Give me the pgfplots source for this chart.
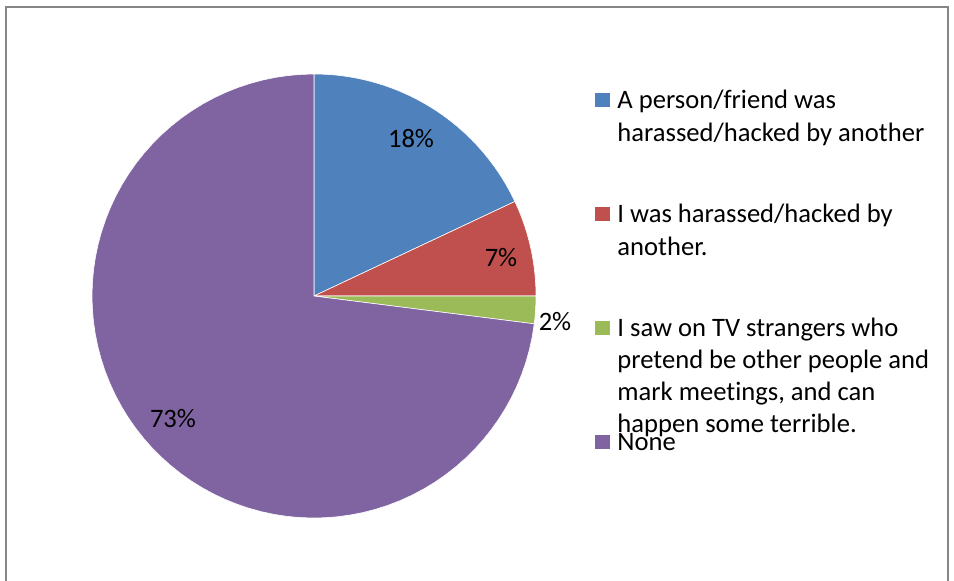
\documentclass[border=0pt]{standalone}
\usepackage{pgfplots}
\pgfplotsset{compat=1.18}
\usepackage{fontspec}
\setmainfont{Carlito}[Ligatures={NoCommon}]

\definecolor{sBlue}{RGB}{79,129,189}
\definecolor{sRed}{RGB}{192,80,77}
\definecolor{sGreen}{RGB}{155,187,89}
\definecolor{sPurple}{RGB}{128,100,162}
\definecolor{frame}{RGB}{134,134,134}

% shares in percent, clockwise from 12 o'clock
\def\pA{18}
\def\pB{7}
\def\pC{2}
\def\pD{73}

\begin{document}
\begin{tikzpicture}
\begin{axis}[
    width=477pt, height=290pt, scale only axis,
    xmin=0, xmax=954, ymin=0, ymax=580,
    y dir=reverse,
    hide axis, clip=false,
]
\pgfplotsset{pie/.style={draw=white, line width=0.3pt, samples=80, variable=\t}}
% slices: centre (314,296), radius 222
\addplot[pie, fill=sBlue, domain={90-3.6*\pA}:90]
    ({314+222*cos(\t)},{296-222*sin(\t)}) -- (axis cs:314,296) -- cycle;
\addplot[pie, fill=sRed, domain={90-3.6*(\pA+\pB)}:{90-3.6*\pA}]
    ({314+222*cos(\t)},{296-222*sin(\t)}) -- (axis cs:314,296) -- cycle;
\addplot[pie, fill=sGreen, domain={90-3.6*(\pA+\pB+\pC)}:{90-3.6*(\pA+\pB)}]
    ({314+222*cos(\t)},{296-222*sin(\t)}) -- (axis cs:314,296) -- cycle;
\addplot[pie, fill=sPurple, domain={90-3.6*(\pA+\pB+\pC+\pD)}:{90-3.6*(\pA+\pB+\pC)}]
    ({314+222*cos(\t)},{296-222*sin(\t)}) -- (axis cs:314,296) -- cycle;

% frame
\draw[frame, line width=1pt] (axis cs:6,620) -- (axis cs:6,7) -- (axis cs:948,7) -- (axis cs:948,620);

\tikzset{lab/.style={font=\fontsize{13.3}{16}\selectfont, inner sep=0pt},
         leg/.style={lab, anchor=base west}}
% data labels
\node[lab] at (axis cs:411,139) {\pA\%};
\node[lab] at (axis cs:501,258) {\pB\%};
\node[lab] at (axis cs:555,322) {\pC\%};
\node[lab] at (axis cs:173,419) {\pD\%};

% legend
\fill[sBlue]   (axis cs:595,93)  rectangle (axis cs:610,107);
\fill[sRed]    (axis cs:595,207) rectangle (axis cs:610,221);
\fill[sGreen]  (axis cs:595,321) rectangle (axis cs:610,335);
\fill[sPurple] (axis cs:595,435) rectangle (axis cs:610,449);
\node[leg] at (axis cs:617,108) {A person/friend was};
\node[leg] at (axis cs:617,141) {harassed/hacked by another};
\node[leg] at (axis cs:617,222) {I was harassed/hacked by};
\node[leg] at (axis cs:617,255) {another.};
\node[leg] at (axis cs:617,336) {I saw on TV strangers who};
\node[leg] at (axis cs:617,368) {pretend be other people and};
\node[leg] at (axis cs:617,400) {mark meetings, and can};
\node[leg] at (axis cs:617,432) {happen some terrible.};
\node[leg] at (axis cs:617,450) {None};
\end{axis}
\pgfresetboundingbox
\path[use as bounding box] (0,0) rectangle (477pt,290pt);
\end{tikzpicture}
\end{document}
